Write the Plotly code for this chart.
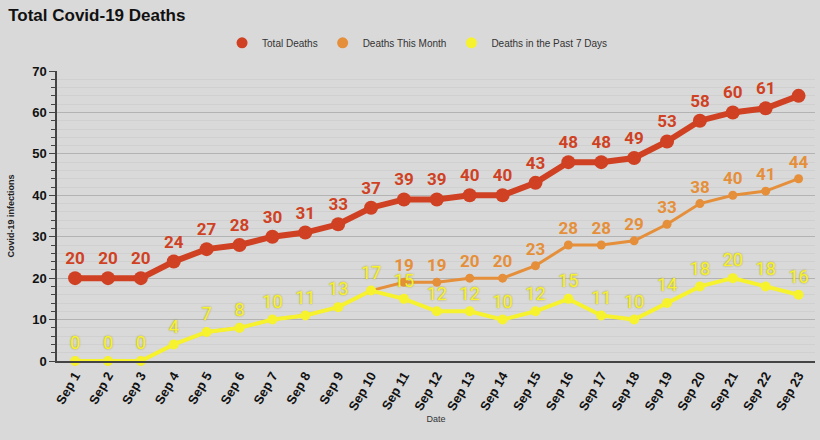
import plotly.graph_objects as go

# ---------------------------------------------------------------------------
# Data
# ---------------------------------------------------------------------------
dates = [f"Sep {d}" for d in range(1, 24)]
total_deaths = [20, 20, 20, 24, 27, 28, 30, 31, 33, 37, 39, 39, 40, 40, 43,
                48, 48, 49, 53, 58, 60, 61, 64]
deaths_month = [0, 0, 0, 4, 7, 8, 10, 11, 13, 17, 19, 19, 20, 20, 23,
                28, 28, 29, 33, 38, 40, 41, 44]
deaths_7days = [0, 0, 0, 4, 7, 8, 10, 11, 13, 17, 15, 12, 12, 10, 12,
                15, 11, 10, 14, 18, 20, 18, 16]
y_ticks = [0, 10, 20, 30, 40, 50, 60, 70]

RED = "#cf4122"
ORANGE = "#e58f3a"
YELLOW = "#f7f22e"
BG = "#d9d9d9"

# labels: the last total label is clipped in the original, orange labels
# are hidden under the yellow ones where the series coincide
red_text = [str(v) for v in total_deaths[:-1]] + [""]
orange_text = ["" if m == w else str(m) for m, w in zip(deaths_month, deaths_7days)]
yellow_text = [str(v) for v in deaths_7days]

fig = go.Figure()

fig.add_trace(go.Scatter(
    x=dates, y=total_deaths, mode="lines+markers+text",
    line=dict(color=RED, width=6), marker=dict(size=14, color=RED),
    text=red_text, textposition="top center",
    textfont=dict(family="Roboto", size=17, color=RED, weight="bold"),
    showlegend=False, cliponaxis=False,
))
fig.add_trace(go.Scatter(
    x=dates, y=deaths_month, mode="lines+markers+text",
    line=dict(color=ORANGE, width=3), marker=dict(size=9, color=ORANGE),
    text=orange_text, textposition="top center",
    textfont=dict(family="Roboto", size=17, color=ORANGE, weight="bold"),
    showlegend=False, cliponaxis=False,
))
fig.add_trace(go.Scatter(
    x=dates, y=deaths_7days, mode="lines+markers+text",
    line=dict(color=YELLOW, width=4), marker=dict(size=10, color=YELLOW),
    text=yellow_text, textposition="top center",
    textfont=dict(family="Roboto", size=18, color=YELLOW,
                  shadow="0px 0px 2px #a89c20"),
    showlegend=False, cliponaxis=False,
))

# legend-only entries (circle symbols)
for name, col in [("Total Deaths", RED), ("Deaths This Month", ORANGE),
                  ("Deaths in the Past 7 Days", YELLOW)]:
    fig.add_trace(go.Scatter(
        x=[None], y=[None], mode="markers", name=name,
        marker=dict(size=11, color=col),
    ))

fig.update_layout(
    width=820, height=440,
    margin=dict(l=57, r=5, t=71, b=79),
    paper_bgcolor=BG, plot_bgcolor=BG,
    font=dict(family="Liberation Sans", color="#111"),
    title=dict(text="<b>Total Covid-19 Deaths</b>", x=0.01, xanchor="left",
               y=0.965, yanchor="middle",
               font=dict(family="Liberation Sans", size=17, color="#111")),
    legend=dict(orientation="h", x=0.475, xanchor="center", y=1.097,
                yanchor="middle",
                font=dict(family="Liberation Sans Narrow, Liberation Sans",
                          size=10, color="#333"),
                bgcolor="rgba(0,0,0,0)", itemwidth=30),
    xaxis=dict(
        type="category", range=[-0.55, 22.5], automargin=False,
        showgrid=False, showline=True, linecolor="#444", linewidth=2,
        tickangle=-60, tickfont=dict(size=13, color="#111", weight="bold"),
        ticks="",
        title=dict(text="Date", font=dict(size=9, color="#333"), standoff=4),
    ),
    yaxis=dict(
        range=[0, 70], tickvals=y_ticks, automargin=False,
        showgrid=True, gridcolor="#b3b3b3", gridwidth=1,
        showline=True, linecolor="#444", linewidth=1.5,
        ticks="outside", ticklen=6, tickcolor="#444",
        tickfont=dict(size=13, color="#111", weight="bold"),
        zeroline=False,
        minor=dict(dtick=2, showgrid=True, gridcolor="#d0d0d0",
                   ticks="outside", ticklen=4, tickcolor="#444"),
        title=dict(text="<b>Covid-19 infections</b>",
                   font=dict(size=9, color="#222"), standoff=16),
    ),
)

fig.write_html("out.html", config={"displayModeBar": False},
               post_script="document.body.style.margin='0';")
